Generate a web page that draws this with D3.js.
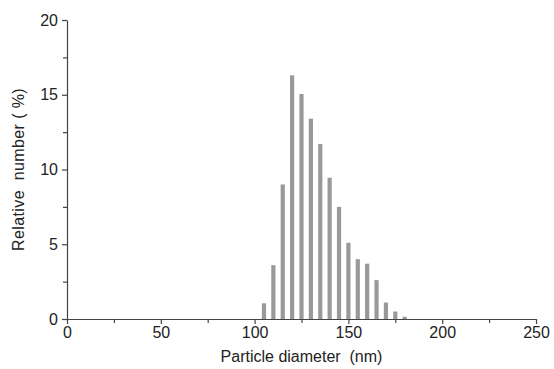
<!doctype html>
<html lang="en">
<head>
<meta charset="utf-8">
<title>Particle size distribution</title>
<script src="https://d3js.org/d3.v7.min.js"></script>
<style>
  body { margin: 0; background: #fff; }
  text { font-family: "Liberation Sans", Arial, sans-serif; fill: #222; white-space: pre; }
</style>
</head>
<body>
<svg id="chart" width="554" height="369"></svg>
<script>
// diameters (nm) and relative number (%)
const diameters = [105, 110, 115, 120, 125, 130, 135, 140, 145, 150, 155, 160, 165, 170, 175, 180];
const percents  = [1.05, 3.6, 9.0, 16.3, 15.05, 13.4, 11.7, 9.45, 7.5, 5.1, 4.0, 3.7, 2.6, 1.1, 0.5, 0.15];
const xTicks = [0, 50, 100, 150, 200, 250];
const xMinor = [25, 75, 125, 175, 225];
const yTicks = [0, 5, 10, 15, 20];
const yMinor = [2.5, 7.5, 12.5, 17.5];

const svg = d3.select('#chart');
const plotLeft = 67, plotRight = 536, plotTop = 20, plotBottom = 319;

const x = d3.scaleLinear().domain([0, 250]).range([plotLeft, plotRight]);
const y = d3.scaleLinear().domain([0, 20]).range([plotBottom, plotTop]);
const axisColor = '#444';

// bars
const barW = 4.2;
svg.append('g').selectAll('rect')
    .data(diameters)
    .enter().append('rect')
    .attr('x', (d) => x(d) - barW / 2)
    .attr('y', (d, i) => y(percents[i]))
    .attr('width', barW)
    .attr('height', (d, i) => y(0) - y(percents[i]))
    .attr('fill', '#999');

// x axis
svg.append('g').attr('transform', `translate(0,${plotBottom})`)
    .call(d3.axisBottom(x).tickValues(xTicks).tickSize(5).tickPadding(3).tickSizeOuter(0));
svg.append('g').attr('transform', `translate(0,${plotBottom})`)
    .call(d3.axisBottom(x).tickValues(xMinor).tickSize(4).tickFormat('').tickSizeOuter(0))
    .select('.domain').remove();

// y axis
svg.append('g').attr('transform', `translate(${plotLeft},0)`)
    .call(d3.axisLeft(y).tickValues(yTicks).tickSize(5).tickPadding(4).tickSizeOuter(0));
svg.append('g').attr('transform', `translate(${plotLeft},0)`)
    .call(d3.axisLeft(y).tickValues(yMinor).tickSize(4).tickFormat('').tickSizeOuter(0))
    .select('.domain').remove();

svg.selectAll('.domain, .tick line').attr('stroke', axisColor).attr('stroke-width', 1.2);
svg.selectAll('.tick text').attr('font-size', 16).style('font-family', '"Liberation Sans", Arial, sans-serif').attr('fill', '#222');

// titles
svg.append('text')
    .attr('x', x(125)).attr('y', 362)
    .attr('text-anchor', 'middle').attr('font-size', 16)
    .text('Particle diameter  (nm)');

svg.append('text')
    .attr('transform', `translate(24,${y(10)}) rotate(-90)`)
    .attr('text-anchor', 'middle').attr('font-size', 16)
    .attr('letter-spacing', 0.4)
    .text('Relative  number ( %)');
</script>
</body>
</html>
